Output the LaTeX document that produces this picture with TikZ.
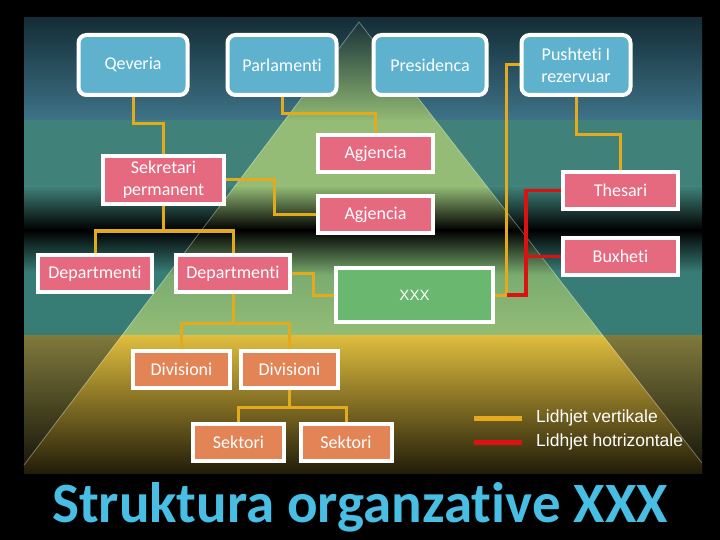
\documentclass[tikz,border=0pt]{standalone}
\usepackage{fontspec}
\setmainfont{Carlito}[Ligatures=NoCommon]
\newfontfamily\legfont{Liberation Sans}
\usetikzlibrary{shapes, calc}

\definecolor{boxblue}{RGB}{95,178,206}
\definecolor{boxpink}{RGB}{229,106,128}
\definecolor{boxorange}{RGB}{227,132,86}
\definecolor{boxgreen}{RGB}{106,183,112}
\definecolor{linkgold}{RGB}{228,170,30}
\definecolor{linkred}{RGB}{218,18,18}
\definecolor{titleblue}{RGB}{72,190,228}
\definecolor{bgtopa}{RGB}{20,45,55}
\definecolor{bgtopb}{RGB}{62,115,135}
\definecolor{bgteal}{RGB}{64,130,122}
\definecolor{bgtealb}{RGB}{56,124,118}
\definecolor{bgolive}{RGB}{128,122,60}
\definecolor{bgolivem}{RGB}{92,88,44}
\definecolor{tritop}{RGB}{145,185,115}
\definecolor{trigreen}{RGB}{148,188,118}
\definecolor{trigreenb}{RGB}{122,172,112}
\definecolor{triyellow}{RGB}{224,190,62}
\definecolor{triyellowm}{RGB}{186,158,50}

\pgfdeclarelayer{bg}
\pgfdeclarelayer{links}
\pgfsetlayers{bg,links,main}

\begin{document}
\begin{tikzpicture}[x=1pt, y=-1pt]
	\tikzstyle{every node}=[font=\fontsize{18}{22}\selectfont, text=white,
		align=center, inner sep=0pt]
	\tikzstyle{box}=[draw=white, line width=4pt]
	\tikzstyle{topbox}=[box, rounded corners=8pt, fill=boxblue,
		minimum width=109pt, minimum height=60pt]
	\tikzstyle{pinkbox}=[box, fill=boxpink, minimum width=115pt,
		minimum height=37pt]
	\tikzstyle{orangebox}=[box, fill=boxorange, minimum width=97pt,
		minimum height=37pt]
	\tikzstyle{greenbox}=[box, fill=boxgreen, minimum width=157pt,
		minimum height=54pt]
	\tikzstyle{vlink}=[draw=linkgold, line width=3pt]
	\tikzstyle{hlink}=[draw=linkred, line width=3.5pt]
	\tikzstyle{legend}=[font=\legfont\fontsize{17.5}{20}\selectfont,
		anchor=west]
	
	\useasboundingbox (0,0) rectangle (720,540);
	
	\begin{pgfonlayer}{bg}
		\fill[black] (0,0) rectangle (720,540);
		% bands
		\shade[top color=bgtopa, bottom color=bgtopb] (24,18) rectangle (702,120);
		\fill[bgteal] (24,120) rectangle (702,186);
		\shade[top color=bgteal, bottom color=black] (24,186) rectangle (702,230);
		\shade[top color=black, bottom color=bgtealb] (24,230) rectangle (702,272);
		\fill[bgtealb] (24,272) rectangle (702,335);
		\shade[top color=bgolive, middle color=bgolivem, bottom color=black!85!bgolive]
			(24,335) rectangle (702,473);
		% pyramid
		\begin{scope}
			\clip (359,22) -- (-33,540) -- (762,540) -- cycle;
			\shade[top color=bgtopa, bottom color=tritop] (24,18) rectangle (702,120);
			\fill[trigreen] (24,120) rectangle (702,186);
			\shade[top color=trigreen, bottom color=black] (24,186) rectangle (702,230);
			\shade[top color=black, bottom color=trigreenb] (24,230) rectangle (702,275);
			\shade[top color=trigreenb, bottom color=trigreen] (24,275) rectangle (702,335);
			\shade[top color=triyellow, middle color=triyellowm, bottom color=black!85!triyellow]
				(24,335) rectangle (702,473);
		\end{scope}
		\draw[white, opacity=0.35, line width=0.8pt] (24,465) -- (359,22) -- (702,463);
	\end{pgfonlayer}
	
	\node[topbox] (qev) at (133,65) {Qeveria};
	\node[topbox] (parl) at (282,65) {Parlamenti};
	\node[topbox, minimum width=113pt] (pres) at (430,65) {Presidenca};
	\node[topbox] (push) at (576,65) {Pushteti I\\rezervuar};
	
	\node[pinkbox, minimum width=121pt, minimum height=48pt] (sek) at (163.5,180)
		{Sekretari\\permanent};
	\node[pinkbox] (agja) at (375.5,154) {Agjencia};
	\node[pinkbox] (agjb) at (375.5,214.5) {Agjencia};
	\node[pinkbox] (thes) at (620.5,190.5) {Thesari};
	\node[pinkbox] (bux) at (620.5,256.5) {Buxheti};
	\node[pinkbox, minimum width=114pt] (depa) at (95,273.5) {Departmenti};
	\node[pinkbox, minimum width=114pt] (depb) at (233,273.5) {Departmenti};
	\node[greenbox] (xxx) at (414.5,295) {\legfont\fontsize{15}{18}\selectfont XXX};
	\node[orangebox] (diva) at (181.5,369.5) {Divisioni};
	\node[orangebox] (divb) at (289.5,369.5) {Divisioni};
	\node[orangebox, minimum width=91pt] (sekta) at (238.5,442.5) {Sektori};
	\node[orangebox, minimum width=91pt] (sektb) at (346,442.5) {Sektori};
	
	\begin{pgfonlayer}{links}
		\draw[vlink] (qev.south) -- ++(0,27) -| (sek.north);
		\draw[vlink] (parl.south) -- ++(0,17) -| (agja.north);
		\draw[vlink] (sek.east) -- ++(48,0) |- (agjb.west);
		\draw[vlink] (sek.south) -- ++(0,25) -| (depa.north);
		\draw[vlink] (sek.south) -- ++(0,25) -| (depb.north);
		\draw[vlink] (push.south) -- ++(0,38) -| (thes.north);
		\coordinate (pw) at ($(push.west)+(-13,0)$);
		\coordinate (jn) at (pw |- xxx.east);
		\draw[vlink] (push.west) -- (pw) -- (jn) -- (xxx.east);
		\draw[hlink] (thes.west) -- ++(-35,0) |- (jn);
		\draw[hlink] (bux.west) -- ++(-35,0);
		\draw[vlink] (depb.east) -- ++(21,0) |- (xxx.west);
		\draw[vlink] (depb.south) -- ++(0,29) -| (diva.north);
		\draw[vlink] (depb.south) -- ++(0,29) -| (divb.north);
		\draw[vlink] (divb.south) -- ++(0,17) -| (sekta.north);
		\draw[vlink] (divb.south) -- ++(0,17) -| (sektb.north);
	\end{pgfonlayer}
	
	% legend
	\node[legend] (lgv) at (536,418) {Lidhjet vertikale};
	\node[legend] (lgh) at (536,442) {Lidhjet hotrizontale};
	\draw[vlink, line width=5pt] ($(lgv.west)+(-62,0)$) -- ($(lgv.west)+(-14,0)$);
	\draw[hlink, line width=5pt] ($(lgh.west)+(-62,0)$) -- ($(lgh.west)+(-14,0)$);
	
	\node[font=\bfseries\fontsize{57}{60}\selectfont, text=titleblue, anchor=base]
		(title) at (360,522) {Struktura organzative XXX};
\end{tikzpicture}
\end{document}
